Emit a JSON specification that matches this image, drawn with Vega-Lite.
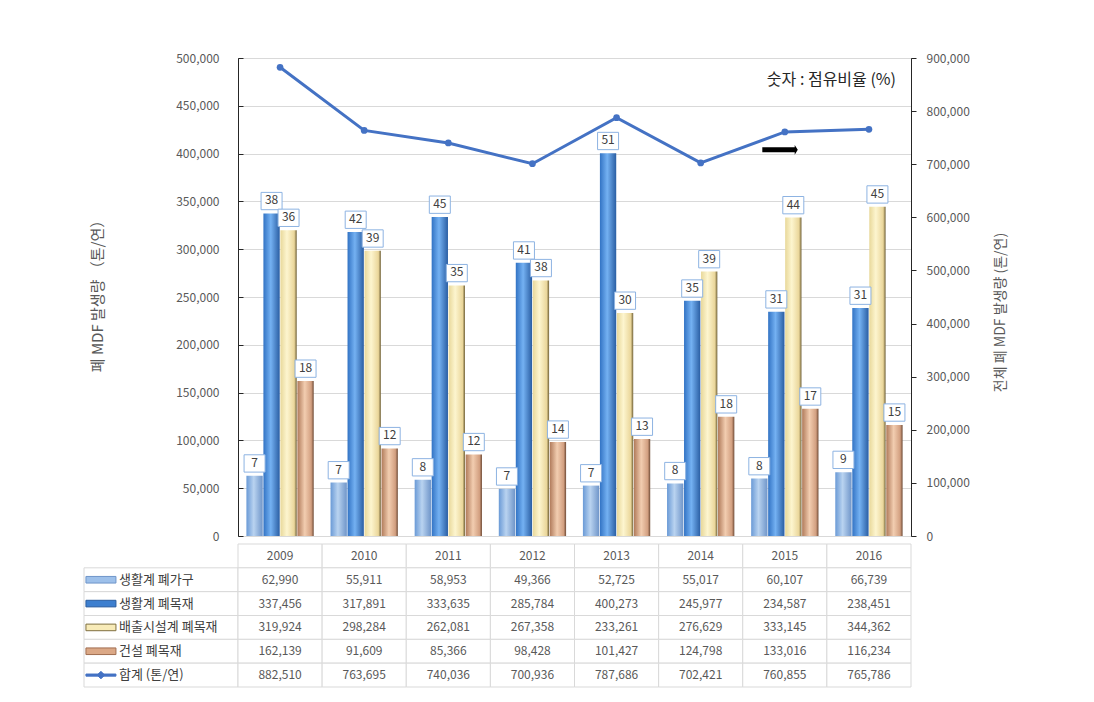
{
  "$schema": "https://vega.github.io/schema/vega-lite/v6.json",
  "background": "white",
  "padding": {"left": 83, "top": 51, "right": 5, "bottom": 5},
  "config": {"font": "Noto Sans CJK KR", "view": {"stroke": null}},
  "datasets": {
    "d": [
      {"year": "2009", "item": "생활계 폐가구", "value": 62990, "pct": 7},
      {"year": "2010", "item": "생활계 폐가구", "value": 55911, "pct": 7},
      {"year": "2011", "item": "생활계 폐가구", "value": 58953, "pct": 8},
      {"year": "2012", "item": "생활계 폐가구", "value": 49366, "pct": 7},
      {"year": "2013", "item": "생활계 폐가구", "value": 52725, "pct": 7},
      {"year": "2014", "item": "생활계 폐가구", "value": 55017, "pct": 8},
      {"year": "2015", "item": "생활계 폐가구", "value": 60107, "pct": 8},
      {"year": "2016", "item": "생활계 폐가구", "value": 66739, "pct": 9},
      {"year": "2009", "item": "생활계 폐목재", "value": 337456, "pct": 38},
      {"year": "2010", "item": "생활계 폐목재", "value": 317891, "pct": 42},
      {"year": "2011", "item": "생활계 폐목재", "value": 333635, "pct": 45},
      {"year": "2012", "item": "생활계 폐목재", "value": 285784, "pct": 41},
      {"year": "2013", "item": "생활계 폐목재", "value": 400273, "pct": 51},
      {"year": "2014", "item": "생활계 폐목재", "value": 245977, "pct": 35},
      {"year": "2015", "item": "생활계 폐목재", "value": 234587, "pct": 31},
      {"year": "2016", "item": "생활계 폐목재", "value": 238451, "pct": 31},
      {"year": "2009", "item": "배출시설계 폐목재", "value": 319924, "pct": 36},
      {"year": "2010", "item": "배출시설계 폐목재", "value": 298284, "pct": 39},
      {"year": "2011", "item": "배출시설계 폐목재", "value": 262081, "pct": 35},
      {"year": "2012", "item": "배출시설계 폐목재", "value": 267358, "pct": 38},
      {"year": "2013", "item": "배출시설계 폐목재", "value": 233261, "pct": 30},
      {"year": "2014", "item": "배출시설계 폐목재", "value": 276629, "pct": 39},
      {"year": "2015", "item": "배출시설계 폐목재", "value": 333145, "pct": 44},
      {"year": "2016", "item": "배출시설계 폐목재", "value": 344362, "pct": 45},
      {"year": "2009", "item": "건설 폐목재", "value": 162139, "pct": 18},
      {"year": "2010", "item": "건설 폐목재", "value": 91609, "pct": 12},
      {"year": "2011", "item": "건설 폐목재", "value": 85366, "pct": 12},
      {"year": "2012", "item": "건설 폐목재", "value": 98428, "pct": 14},
      {"year": "2013", "item": "건설 폐목재", "value": 101427, "pct": 13},
      {"year": "2014", "item": "건설 폐목재", "value": 124798, "pct": 18},
      {"year": "2015", "item": "건설 폐목재", "value": 133016, "pct": 17},
      {"year": "2016", "item": "건설 폐목재", "value": 116234, "pct": 15},
      {"year": "2009", "item": "합계 (톤/연)", "value": 882510},
      {"year": "2010", "item": "합계 (톤/연)", "value": 763695},
      {"year": "2011", "item": "합계 (톤/연)", "value": 740036},
      {"year": "2012", "item": "합계 (톤/연)", "value": 700936},
      {"year": "2013", "item": "합계 (톤/연)", "value": 787686},
      {"year": "2014", "item": "합계 (톤/연)", "value": 702421},
      {"year": "2015", "item": "합계 (톤/연)", "value": 760855},
      {"year": "2016", "item": "합계 (톤/연)", "value": 765786}
    ],
    "items": [
      {"item": "생활계 폐가구"},
      {"item": "생활계 폐목재"},
      {"item": "배출시설계 폐목재"},
      {"item": "건설 폐목재"},
      {"item": "합계 (톤/연)"}
    ],
    "years": [
      {"year": "2009"}, {"year": "2010"}, {"year": "2011"}, {"year": "2012"},
      {"year": "2013"}, {"year": "2014"}, {"year": "2015"}, {"year": "2016"}
    ]
  },
  "spacing": 0,
  "bounds": "full",
  "vconcat": [
    {
      "spacing": 0,
      "bounds": "flush",
      "hconcat": [
        {"width": 154, "height": 478, "data": {"values": []}, "mark": "point"},
        {
          "width": 673,
          "height": 478,
          "view": {"stroke": "#595959", "strokeWidth": 1},
          "data": {"name": "d"},
          "resolve": {"scale": {"y": "independent"}},
          "layer": [
            {
              "encoding": {
                "x": {"field": "year", "type": "nominal", "scale": {"paddingInner": 0.2, "paddingOuter": 0.1}, "axis": null},
                "y": {
                  "field": "value", "type": "quantitative",
                  "scale": {"domain": [0, 500000]},
                  "axis": {
                    "values": [0, 50000, 100000, 150000, 200000, 250000, 300000, 350000, 400000, 450000, 500000],
                    "format": ",d", "grid": true, "gridColor": "#d9d9d9", "gridWidth": 1,
                    "domainColor": "#262626", "tickColor": "#262626", "tickSize": -5,
                    "labelColor": "#595959", "labelFontSize": 12, "labelPadding": 24,
                    "title": "폐 MDF 발생량 （톤/연）", "titleColor": "#595959", "titleFontSize": 15,
                    "titleFontWeight": "normal", "titlePadding": 70, "titleY": 234
                  }
                }
              },
              "layer": [
                {
                  "transform": [{"filter": "datum.item == '생활계 폐가구'"}],
                  "mark": {"type": "bar", "color": {"gradient": "linear", "x1": 0, "x2": 1, "y1": 0, "y2": 0, "stops": [{"offset": 0, "color": "#6a9ad6"}, {"offset": 0.45, "color": "#b9d3f0"}, {"offset": 1, "color": "#6f95c9"}]}},
                  "encoding": {"xOffset": {"field": "item", "scale": {"domain": ["생활계 폐가구", "생활계 폐목재", "배출시설계 폐목재", "건설 폐목재"], "paddingInner": 0.04, "paddingOuter": 0}}}
                },
                {
                  "transform": [{"filter": "datum.item == '생활계 폐목재'"}],
                  "mark": {"type": "bar", "color": {"gradient": "linear", "x1": 0, "x2": 1, "y1": 0, "y2": 0, "stops": [{"offset": 0, "color": "#3273c4"}, {"offset": 0.45, "color": "#74b1f2"}, {"offset": 1, "color": "#2a5ea3"}]}},
                  "encoding": {"xOffset": {"field": "item"}}
                },
                {
                  "transform": [{"filter": "datum.item == '배출시설계 폐목재'"}],
                  "mark": {"type": "bar", "color": {"gradient": "linear", "x1": 0, "x2": 1, "y1": 0, "y2": 0, "stops": [{"offset": 0, "color": "#e8d89a"}, {"offset": 0.4, "color": "#fdf5cf"}, {"offset": 0.85, "color": "#ead69a"}, {"offset": 1, "color": "#6e5f35"}]}},
                  "encoding": {"xOffset": {"field": "item"}}
                },
                {
                  "transform": [{"filter": "datum.item == '건설 폐목재'"}],
                  "mark": {"type": "bar", "color": {"gradient": "linear", "x1": 0, "x2": 1, "y1": 0, "y2": 0, "stops": [{"offset": 0, "color": "#b07a5a"}, {"offset": 0.45, "color": "#f2cdb0"}, {"offset": 0.85, "color": "#d29f80"}, {"offset": 1, "color": "#6e4a35"}]}},
                  "encoding": {"xOffset": {"field": "item"}}
                },
                {
                  "transform": [{"filter": "datum.item != '합계 (톤/연)'"}],
                  "mark": {"type": "point", "shape": "M-1,-2.0H1V-0.35H-1Z", "size": 441, "filled": true, "fill": "white", "stroke": "#8db3e2", "strokeWidth": 1, "opacity": 1},
                  "encoding": {"xOffset": {"field": "item"}}
                },
                {
                  "transform": [{"filter": "datum.item != '합계 (톤/연)'"}],
                  "mark": {"type": "text", "dy": -13, "baseline": "middle", "align": "center", "fontSize": 12, "color": "#404040"},
                  "encoding": {"xOffset": {"field": "item"}, "text": {"field": "pct", "type": "quantitative"}}
                },
                {
                  "transform": [{"filter": "datum.item == '합계 (톤/연)' && datum.year == '2016'"}],
                  "mark": {"type": "text", "text": "숫자 : 점유비율 (%)", "align": "right", "baseline": "middle", "dx": 27, "fontSize": 16, "color": "#262626"},
                  "encoding": {"y": {"datum": 477000}}
                },
                {
                  "transform": [{"filter": "datum.item == '합계 (톤/연)' && datum.year == '2015'"}],
                  "mark": {"type": "point", "shape": "M-1.25,-0.14H0.55V-0.27L0.72,0L0.55,0.27V0.14H-1.25Z", "size": 1296, "filled": true, "color": "#000000", "opacity": 1},
                  "encoding": {"y": {"datum": 404000}}
                }
              ]
            },
            {
              "transform": [{"filter": "datum.item == '합계 (톤/연)'"}],
              "mark": {"type": "line", "color": "#4472c4", "strokeWidth": 3, "point": {"filled": true, "size": 45, "color": "#4472c4", "opacity": 1}},
              "encoding": {
                "x": {"field": "year", "type": "nominal", "axis": null},
                "y": {
                  "field": "value", "type": "quantitative",
                  "scale": {"domain": [0, 900000]},
                  "axis": {
                    "orient": "right",
                    "values": [0, 100000, 200000, 300000, 400000, 500000, 600000, 700000, 800000, 900000],
                    "format": ",d", "grid": false,
                    "domainColor": "#262626", "tickColor": "#262626", "tickSize": 5,
                    "labelColor": "#595959", "labelFontSize": 12, "labelPadding": 10,
                    "title": "전체 폐 MDF 발생량 (톤/연)", "titleColor": "#595959", "titleFontSize": 14,
                    "titleFontWeight": "normal", "titlePadding": 38, "titleAngle": -90, "titleY": 254
                  }
                }
              }
            }
          ]
        }
      ]
    },
    {
      "spacing": 0,
      "bounds": "flush",
      "hconcat": [
        {
          "width": 154,
          "height": 143,
          "data": {"name": "items"},
          "encoding": {
            "y": {"field": "item", "type": "nominal", "scale": {"domain": ["연도", "생활계 폐가구", "생활계 폐목재", "배출시설계 폐목재", "건설 폐목재", "합계 (톤/연)"], "paddingInner": 0, "paddingOuter": 0}, "axis": null}
          },
          "layer": [
            {
              "mark": {"type": "rect", "fill": "white", "stroke": "#d9d9d9", "strokeWidth": 1},
              "encoding": {
                "x": {"datum": 0, "type": "quantitative", "scale": {"domain": [0, 1]}, "axis": null},
                "x2": {"datum": 1}
              }
            },
            {
              "mark": {"type": "point", "size": 900, "filled": true, "opacity": 1, "strokeWidth": 1},
              "encoding": {
                "x": {"datum": 0.11, "type": "quantitative"},
                "shape": {"field": "item", "type": "nominal", "legend": null, "scale": {"domain": ["생활계 폐가구", "생활계 폐목재", "배출시설계 폐목재", "건설 폐목재", "합계 (톤/연)"], "range": ["M-1,-0.22H1V0.22H-1Z", "M-1,-0.22H1V0.22H-1Z", "M-1,-0.22H1V0.22H-1Z", "M-1,-0.22H1V0.22H-1Z", "M-1,-0.07H1V0.07H-1Z M-0.25,0L0,-0.25L0.25,0L0,0.25Z"]}},
                "fill": {"field": "item", "type": "nominal", "legend": null, "scale": {"domain": ["생활계 폐가구", "생활계 폐목재", "배출시설계 폐목재", "건설 폐목재", "합계 (톤/연)"], "range": ["#9dc0ea", "#3d7fcf", "#f8ebb8", "#dba886", "#4472c4"]}},
                "stroke": {"field": "item", "type": "nominal", "legend": null, "scale": {"domain": ["생활계 폐가구", "생활계 폐목재", "배출시설계 폐목재", "건설 폐목재", "합계 (톤/연)"], "range": ["#6f95c9", "#2a5c9e", "#7f6f3f", "#a06e50", "#4472c4"]}}
              }
            },
            {
              "mark": {"type": "text", "align": "left", "baseline": "middle", "fontSize": 13, "color": "#404040"},
              "encoding": {
                "x": {"datum": 0.227, "type": "quantitative"},
                "text": {"field": "item"}
              }
            }
          ]
        },
        {
          "width": 673,
          "height": 143,
          "encoding": {
            "x": {"field": "year", "type": "nominal", "scale": {"paddingInner": 0, "paddingOuter": 0}, "axis": null},
            "y": {"field": "item", "type": "nominal", "scale": {"domain": ["연도", "생활계 폐가구", "생활계 폐목재", "배출시설계 폐목재", "건설 폐목재", "합계 (톤/연)"], "paddingInner": 0, "paddingOuter": 0}, "axis": null}
          },
          "layer": [
            {
              "data": {"name": "years"},
              "mark": {"type": "rect", "fill": "white", "stroke": "#d9d9d9", "strokeWidth": 1},
              "encoding": {"y": {"datum": "연도"}}
            },
            {
              "data": {"name": "years"},
              "mark": {"type": "text", "baseline": "middle", "align": "center", "fontSize": 12, "color": "#595959"},
              "encoding": {"y": {"datum": "연도"}, "text": {"field": "year"}}
            },
            {
              "data": {"name": "d"},
              "mark": {"type": "rect", "fill": "white", "stroke": "#d9d9d9", "strokeWidth": 1}
            },
            {
              "data": {"name": "d"},
              "mark": {"type": "text", "baseline": "middle", "align": "center", "fontSize": 12, "color": "#595959"},
              "encoding": {"text": {"field": "value", "type": "quantitative", "format": ","}}
            }
          ]
        }
      ]
    }
  ]
}
